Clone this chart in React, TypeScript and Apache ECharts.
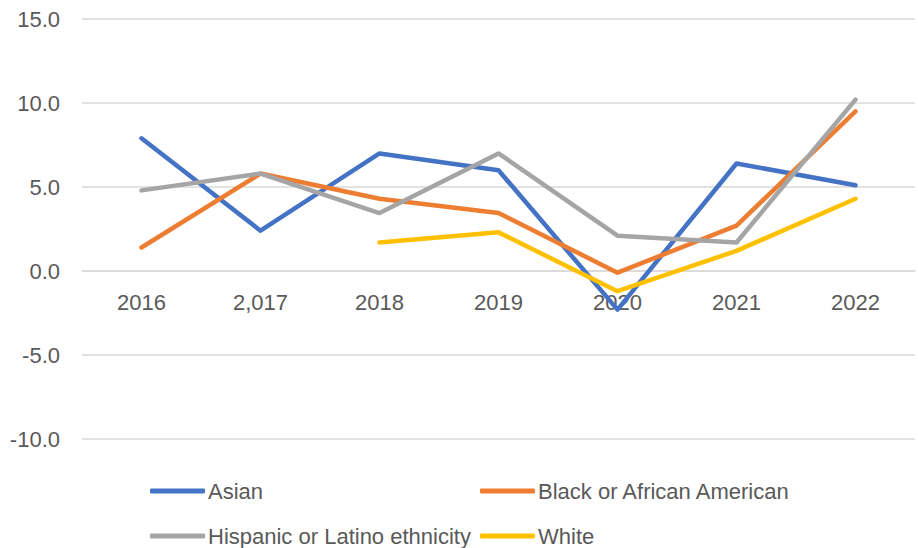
import React, { useEffect, useRef } from "react";
import * as echarts from "echarts";

const categories = ["2016", "2,017", "2018", "2019", "2020", "2021", "2022"];
const asian = [7.9, 2.4, 7.0, 6.0, -2.3, 6.4, 5.1];
const black = [1.4, 5.8, 4.3, 3.45, -0.1, 2.7, 9.5];
const hispanic = [4.8, 5.8, 3.45, 7.0, 2.1, 1.7, 10.2];
const white = [null, null, 1.7, 2.3, -1.2, 1.2, 4.3];
const seriesNames = ["Asian", "Black or African American", "Hispanic or Latino ethnicity", "White"];
const colors = ["#4472C4", "#ED7D31", "#A5A5A5", "#FFC000"];

const FONT = "'Liberation Sans', Arial, sans-serif";

export default function App() {
  const ref = useRef<HTMLDivElement>(null);
  useEffect(() => {
    if (!ref.current) return;
    const chart = echarts.init(ref.current, null, { renderer: "svg" });
    const data = [asian, black, hispanic, white];
    const legendPos = [
      { left: 150, top: 479 },
      { left: 480, top: 479 },
      { left: 150, top: 524 },
      { left: 480, top: 524 },
    ];
    chart.setOption({
      animation: false,
      color: colors,
      grid: { left: 82, right: 3, top: 19, bottom: 109, containLabel: false },
      legend: seriesNames.map((n, i) => ({
        data: [n],
        left: legendPos[i].left,
        top: legendPos[i].top,
        padding: 0,
        itemWidth: 55,
        itemHeight: 5,
        icon: "roundRect",
        selectedMode: false,
        textStyle: { fontFamily: FONT, fontSize: 22, color: "#595959", lineHeight: 24, padding: [0, 0, 0, -2] },
      })),
      xAxis: {
        type: "category",
        data: categories,
        boundaryGap: true,
        position: "bottom",
        offset: -168,
        axisLine: { onZero: false, lineStyle: { color: "#D9D9D9", width: 1.5 } },
        axisTick: { show: false },
        axisLabel: { fontFamily: FONT, fontSize: 22, color: "#595959", margin: 20 },
        splitLine: { show: false },
      },
      yAxis: {
        type: "value",
        min: -10,
        max: 15,
        interval: 5,
        axisLine: { show: false },
        axisTick: { show: false },
        axisLabel: {
          fontFamily: FONT,
          fontSize: 22,
          color: "#595959",
          margin: 22,
          formatter: (v: number) => v.toFixed(1),
        },
        splitLine: { lineStyle: { color: "#D9D9D9", width: 1.5 } },
      },
      series: seriesNames.map((n, i) => ({
        name: n,
        type: "line",
        data: data[i],
        showSymbol: false,
        symbol: "none",
        smooth: false,
        connectNulls: false,
        lineStyle: { width: 4.5, color: colors[i], cap: "round", join: "round" },
        itemStyle: { color: colors[i] },
      })),
    });
    return () => chart.dispose();
  }, []);
  return <div ref={ref} style={{ width: 918, height: 548, position: "absolute", left: 0, top: 0 }} />;
}
